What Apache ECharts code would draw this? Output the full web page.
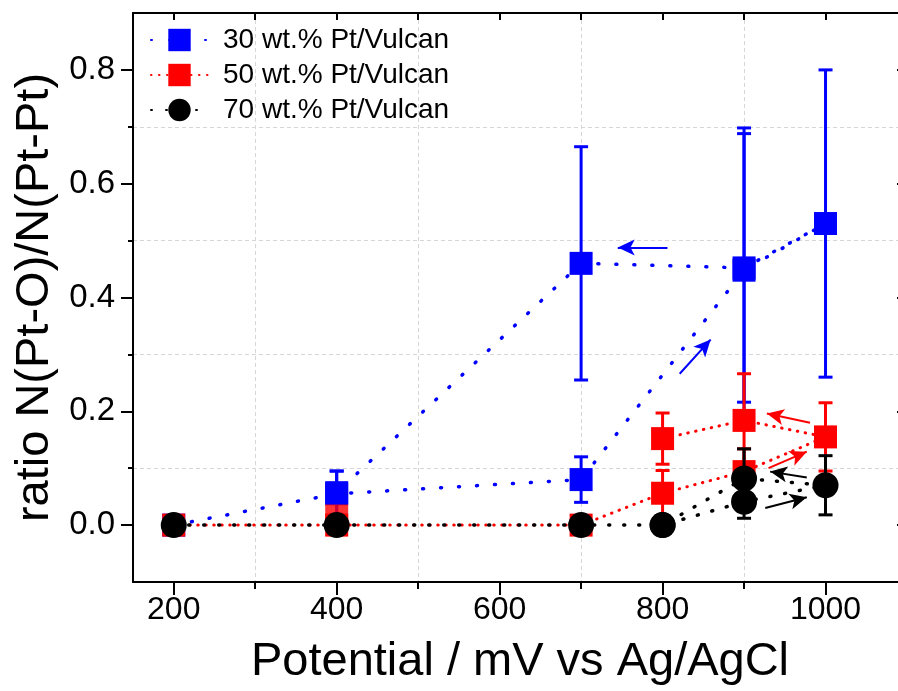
<!DOCTYPE html>
<html><head><meta charset="utf-8">
<script src="https://cdn.jsdelivr.net/npm/echarts@6/dist/echarts.min.js"></script>
<style>html,body{margin:0;padding:0;background:#fff;overflow:hidden}#c{width:910px;height:691px}</style>
</head><body><div id="c"></div>
<script>
// ---- data (path order as measured; [potential mV], ratio, symmetric error) ----
const seriesNames = ['30 wt.% Pt/Vulcan', '50 wt.% Pt/Vulcan', '70 wt.% Pt/Vulcan'];
const blueX   = [200, 400,   700,  900,   1000, 900,   700,   400];
const blueY   = [0,   0.055, 0.08, 0.448, 0.53, 0.452, 0.46,  0.057];
const blueErr = [0,   0.04,  0.04, 0.25,  0.27, 0.236, 0.205, 0.038];
const redX    = [200, 400, 700, 800,   900,   1000,  900,   800];
const redY    = [0,   0,   0,   0.056, 0.094, 0.155, 0.184, 0.152];
const redErr  = [0,   0,   0,   0.04,  0.04,  0.06,  0.082, 0.045];
const redExtraX = [400];
const redExtraY = [0.016];
const blackX   = [200, 400, 700, 800, 900,   1000,  900,   800];
const blackY   = [0,   0,   0,   0,   0.041, 0.07,  0.082, 0];
const blackErr = [0,   0,   0,   0,   0.029, 0.052, 0.052, 0];
// arrows: [x1, y1, x2, y2]
const blueArrows  = [[806, 0.488, 745, 0.488], [821, 0.266, 859, 0.326]];
const redArrows   = [[981, 0.18, 928, 0.196], [930, 0.10, 977, 0.129]];
const blackArrows = [[977, 0.0835, 932, 0.094], [926, 0.03, 977, 0.049]];
// axes
const xMin = 150, xMax = 1100, yMin = -0.1, yMax = 0.9;
const xMajor = [200, 400, 600, 800, 1000];
const xMinor = [300, 500, 700, 900];
const xTop = [200, 300, 400, 500, 600, 700, 800, 900, 1000];
const yMajor = [0, 0.2, 0.4, 0.6, 0.8];
const yMinor = [0.1, 0.3, 0.5, 0.7];
const xTitle = 'Potential / mV vs Ag/AgCl';
const yTitle = 'ratio N(Pt-O)/N(Pt-Pt)';

const FONT = 'Liberation Sans, Arial, sans-serif';
const BLUE = '#0000ff', RED = '#ff0000', BLACK = '#000000';

function pts(xs, ys) { return xs.map((x, i) => [x, ys[i]]); }

function errSeries(xs, ys, es, color, z) {
  return {
    type: 'custom', silent: true, z: z, xAxisIndex: 0, yAxisIndex: 0,
    data: xs.map((x, i) => [x, ys[i], es[i]]),
    encode: { x: 0, y: 1 },
    animation: false,
    renderItem: function (params, api) {
      const x = api.value(0), y = api.value(1), e = api.value(2);
      if (!e) return null;
      const t = api.coord([x, y + e]), b = api.coord([x, y - e]);
      const hw = 7;
      const st = { stroke: color, lineWidth: 3 };
      return { type: 'group', children: [
        { type: 'line', shape: { x1: t[0], y1: t[1], x2: b[0], y2: b[1] }, style: st },
        { type: 'line', shape: { x1: t[0] - hw, y1: t[1], x2: t[0] + hw, y2: t[1] }, style: st },
        { type: 'line', shape: { x1: b[0] - hw, y1: b[1], x2: b[0] + hw, y2: b[1] }, style: st }
      ]};
    }
  };
}

function arrowMark(arr, color) {
  return {
    silent: true, animation: false,
    symbol: ['none', 'arrow'], symbolSize: [12, 17],
    label: { show: false },
    lineStyle: { color: color, width: 2, type: 'solid' },
    emphasis: { disabled: true },
    data: arr.map(a => [{ coord: [a[0], a[1]] }, { coord: [a[2], a[3]] }])
  };
}

function lineSeries(name, xs, ys, color, symbol, size, dash, width, z, arrows) {
  return {
    type: 'line', name: name, z: z, xAxisIndex: 0, yAxisIndex: 0,
    data: pts(xs, ys), symbol: symbol, symbolSize: size, showSymbol: true,
    itemStyle: { color: color, opacity: 1 },
    lineStyle: { color: color, width: width, type: dash, cap: 'round' },
    animation: false, silent: true,
    markLine: arrowMark(arrows, color)
  };
}

const chart = echarts.init(document.getElementById('c'), null, { renderer: 'canvas' });
const axisLineStyle = { color: '#000', width: 2 };
const gridLine = { show: true, lineStyle: { color: '#d6d6d6', width: 1, type: [4, 3] } };

chart.setOption({
  backgroundColor: '#fff',
  animation: false,
  grid: { left: 133, right: 3, top: 13, bottom: 107, containLabel: false },
  legend: {
    data: seriesNames, orient: 'vertical', left: 145, top: 21,
    itemWidth: 57, itemHeight: 28, itemGap: 7,
    textStyle: { fontFamily: FONT, fontSize: 28, color: '#000', padding: [0, 0, 0, 10] },
    selectedMode: false
  },
  xAxis: [
    { type: 'value', min: xMin, max: xMax, position: 'bottom',
      axisLine: { show: true, onZero: false, lineStyle: axisLineStyle },
      axisTick: { show: true, inside: false, length: 13, customValues: xMajor, lineStyle: { color: '#000', width: 2 } },
      axisLabel: { show: true, customValues: xMajor, margin: 12, fontFamily: FONT, fontSize: 32, color: '#000',
                   formatter: v => String(v) },
      splitLine: { show: false },
      name: xTitle, nameLocation: 'middle', nameGap: 57,
      nameTextStyle: { fontFamily: FONT, fontSize: 47, color: '#000' } },
    { type: 'value', min: xMin, max: xMax, position: 'bottom',
      axisLine: { show: false, onZero: false },
      axisTick: { show: true, inside: false, length: 7, customValues: xMinor, lineStyle: { color: '#000', width: 2 } },
      axisLabel: { show: false },
      splitLine: gridLine },
    { type: 'value', min: xMin, max: xMax, position: 'top',
      axisLine: { show: true, onZero: false, lineStyle: axisLineStyle },
      axisTick: { show: true, inside: true, length: 7, customValues: xTop, lineStyle: { color: '#000', width: 2 } },
      axisLabel: { show: false },
      splitLine: { show: false } }
  ],
  yAxis: [
    { type: 'value', min: yMin, max: yMax, position: 'left',
      axisLine: { show: true, onZero: false, lineStyle: axisLineStyle },
      axisTick: { show: true, inside: false, length: 12, customValues: yMajor, lineStyle: { color: '#000', width: 2 } },
      axisLabel: { show: true, customValues: yMajor, margin: 18, fontFamily: FONT, fontSize: 33, color: '#000',
                   formatter: v => v.toFixed(1) },
      splitLine: { show: false },
      name: yTitle, nameLocation: 'middle', nameGap: 71, nameRotate: 90,
      nameTextStyle: { fontFamily: FONT, fontSize: 47, color: '#000' } },
    { type: 'value', min: yMin, max: yMax, position: 'left',
      axisLine: { show: false, onZero: false },
      axisTick: { show: true, inside: false, length: 5, customValues: yMinor, lineStyle: { color: '#000', width: 2 } },
      axisLabel: { show: false },
      splitLine: gridLine },
    { type: 'value', min: yMin, max: yMax, position: 'right',
      axisLine: { show: true, onZero: false, lineStyle: axisLineStyle },
      axisTick: { show: true, inside: true, length: 10, customValues: yMajor, lineStyle: { color: '#000', width: 2 } },
      axisLabel: { show: false },
      splitLine: { show: false } }
  ],
  series: [
    errSeries(blueX, blueY, blueErr, BLUE, 2),
    lineSeries(seriesNames[0], blueX, blueY, BLUE, 'rect', 23, [1, 17], 3.5, 3, blueArrows),
    errSeries(redX, redY, redErr, RED, 4),
    { type: 'scatter', name: 'red-extra', z: 4, data: pts(redExtraX, redExtraY), symbol: 'rect', symbolSize: 23,
      itemStyle: { color: RED }, silent: true, animation: false },
    lineSeries(seriesNames[1], redX, redY, RED, 'rect', 23, [0.5, 7.5], 3, 5, redArrows),
    errSeries(blackX, blackY, blackErr, BLACK, 6),
    lineSeries(seriesNames[2], blackX, blackY, BLACK, 'circle', 26, [1, 14], 3.5, 7, blackArrows)
  ]
});
</script>
</body></html>
